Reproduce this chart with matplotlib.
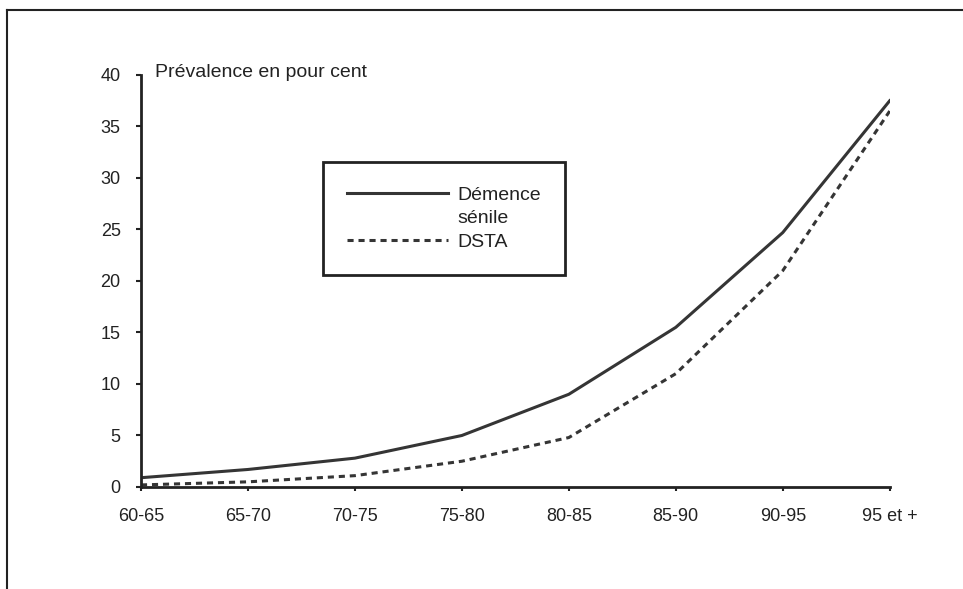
import matplotlib.pyplot as plt
from matplotlib.lines import Line2D

plt.rcParams['font.family'] = ['Liberation Sans', 'DejaVu Sans']

# age groups and prevalence values (%)
age_groups = ["60-65", "65-70", "70-75", "75-80", "80-85", "85-90", "90-95", "95 et +"]
demence_senile = [0.9, 1.7, 2.8, 5.0, 9.0, 15.5, 24.7, 37.5]
dsta = [0.2, 0.5, 1.1, 2.5, 4.8, 11.0, 21.0, 36.5]
y_ticks = [0, 5, 10, 15, 20, 25, 30, 35, 40]

fig = plt.figure(figsize=(9.63, 5.89), dpi=100)
ax = fig.add_axes([0.1464, 0.1732, 0.7775, 0.6995])

x = list(range(len(age_groups)))
l1, = ax.plot(x, demence_senile, color="#353535", lw=2.2)
l2, = ax.plot(x, dsta, color="#353535", lw=2.2, linestyle=(0, (2.0, 1.6)))

ax.set_xlim(0, len(age_groups) - 1)
ax.set_ylim(0, 40)
ax.set_xticks(x)
ax.set_xticklabels(age_groups)
ax.set_yticks(y_ticks)
ax.tick_params(axis="both", labelsize=13, colors="#222222", width=1.5)
ax.tick_params(axis="y", length=3.6, pad=11)
ax.tick_params(axis="x", length=3, pad=12)
for s in ["top", "right"]:
    ax.spines[s].set_visible(False)
for s in ["left", "bottom"]:
    ax.spines[s].set_linewidth(2)
    ax.spines[s].set_color("#222222")

ax.text(0.019, 1.007, "Prévalence en pour cent", transform=ax.transAxes,
        fontsize=14, color="#222222", va="center", ha="left")

# second label line "sénile" gets an empty handle so the line sits beside "Démence"
blank = Line2D([], [], color="none")
leg = ax.legend([l1, blank, l2], ["Démence", "sénile", "DSTA"],
                loc="upper left", bbox_to_anchor=(0.243, 0.789), fontsize=14,
                handlelength=5.2, handletextpad=0.45, borderpad=1.25,
                labelspacing=0.3, fancybox=False, framealpha=1,
                borderaxespad=0)
leg.get_frame().set_edgecolor("#222222")
leg.get_frame().set_linewidth(2)
for t in leg.get_texts():
    t.set_color("#222222")

# page border of the scanned sheet
fig.add_artist(Line2D([0.007, 1.0], [0.983, 0.983], transform=fig.transFigure,
                      color="#222222", lw=1.5))
fig.add_artist(Line2D([0.007, 0.007], [0.0, 0.983], transform=fig.transFigure,
                      color="#222222", lw=1.5))

fig.savefig("out.png", dpi=100)
